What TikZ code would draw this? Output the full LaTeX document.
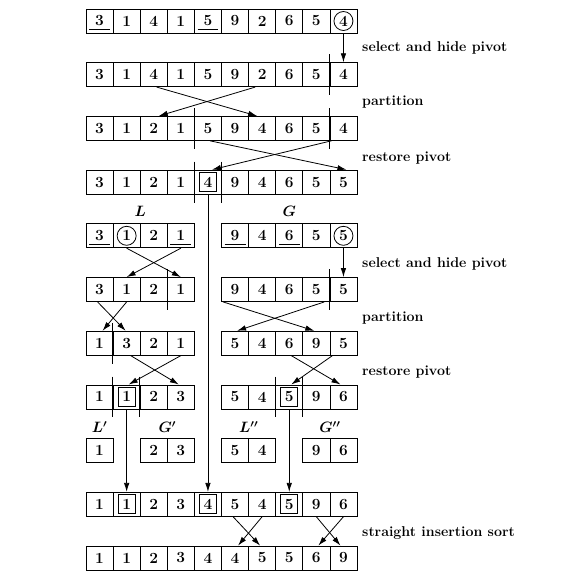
\RequirePackage{fix-cm}
\documentclass[tikz,border=0pt]{standalone}
\usetikzlibrary{arrows.meta,calc}
\tikzset{
  lw/.style={line width=0.8pt},
  cell/.style={draw, lw, minimum width=27.1pt, minimum height=24pt, inner sep=0pt,
    font=\fontsize{15.5}{18}\selectfont\bfseries},
  arr/.style={lw, -{Latex[length=9pt,width=5.5pt]}},
  lbl/.style={anchor=west, inner sep=0pt, font=\fontsize{14.2}{17}\selectfont\bfseries},
  setlbl/.style={inner sep=0pt, font=\fontsize{15}{18}\selectfont\boldmath},
  circmark/.style={draw, lw, circle, minimum size=19pt, inner sep=0pt},
  boxmark/.style={draw, lw, minimum width=17pt, minimum height=19pt, inner sep=0pt}
}
\newcommand\cellrow[3]{\foreach \v [count=\i from #2] in {#3} {\node[cell] (r#1c\i) at ({99.55+27.1*\i},{21+53.7*#1}) {\v};}}
\newcommand\ulcell[1]{\draw[lw] ([xshift=3.5pt,yshift=4pt]#1.south west) -- ([xshift=-3.5pt,yshift=4pt]#1.south east);}
\newcommand\circcell[1]{\node[circmark] (circ-#1) at (#1) {};}
\newcommand\boxcell[1]{\node[boxmark] (box-#1) at (#1) {};}
\newcommand\sepbefore[2]{\draw[lw] ([yshift=8pt]r#1c#2.north west) -- ([yshift=-8pt]r#1c#2.south west);}
\begin{document}
\begin{tikzpicture}[x=1pt,y=-1pt]
\useasboundingbox (0,0) rectangle (575,587);
% rows
\cellrow{0}{0}{3,1,4,1,5,9,2,6,5,4}
\cellrow{1}{0}{3,1,4,1,5,9,2,6,5,4}
\cellrow{2}{0}{3,1,2,1,5,9,4,6,5,4}
\cellrow{3}{0}{3,1,2,1,4,9,4,6,5,5}
\cellrow{4}{0}{3,1,2,1}
\cellrow{4}{5}{9,4,6,5,5}
\cellrow{5}{0}{3,1,2,1}
\cellrow{5}{5}{9,4,6,5,5}
\cellrow{6}{0}{1,3,2,1}
\cellrow{6}{5}{5,4,6,9,5}
\cellrow{7}{0}{1,1,2,3}
\cellrow{7}{5}{5,4,5,9,6}
\cellrow{8}{0}{1}
\cellrow{8}{2}{2,3}
\cellrow{8}{5}{5,4}
\cellrow{8}{8}{9,6}
\cellrow{9}{0}{1,1,2,3,4,5,4,5,9,6}
\cellrow{10}{0}{1,1,2,3,4,4,5,5,6,9}
% marks
\ulcell{r0c0}\ulcell{r0c4}\circcell{r0c9}
\ulcell{r4c0}\ulcell{r4c3}\circcell{r4c1}
\ulcell{r4c5}\ulcell{r4c7}\circcell{r4c9}
\boxcell{r3c4}
\boxcell{r7c1}\boxcell{r7c7}
\boxcell{r9c1}\boxcell{r9c4}\boxcell{r9c7}
% separators
\sepbefore{1}{9}
\sepbefore{2}{4}\sepbefore{2}{9}
\sepbefore{3}{4}\sepbefore{3}{5}
\sepbefore{5}{3}\sepbefore{5}{9}
\sepbefore{6}{1}
\sepbefore{7}{1}\sepbefore{7}{2}
\sepbefore{7}{7}\sepbefore{7}{8}
% arrows
\draw[arr] (r0c9.south) -- (r1c9.north);
\draw[arr] ([xshift=3pt]r1c2.south) -- ([xshift=-5pt]r2c6.north);
\draw[arr] ([xshift=-7pt]r1c6.south) -- ([xshift=5pt]r2c2.north);
\draw[arr] ([xshift=2pt]r2c4.south) -- ([xshift=3pt]r3c9.north);
\draw[arr] ([xshift=-12pt]r2c9.south) -- ([xshift=4pt]r3c4.north);
\draw[arr] (r3c4.south) -- (r9c4.north);
\draw[arr] (r4c1.south) -- (r5c3.north);
\draw[arr] (r4c3.south) -- (r5c1.north);
\draw[arr] (r4c9.south) -- (r5c9.north);
\draw[arr] ([xshift=-2pt]r5c0.south) -- ([xshift=-1pt]r6c1.north);
\draw[arr] (r5c1.south) -- ([xshift=3pt]r6c0.north);
\draw[arr] ([xshift=-12pt]r5c5.south) -- ([xshift=-2pt]r6c8.north);
\draw[arr] ([xshift=8pt]r5c8.south) -- ([xshift=2pt]r6c5.north);
\draw[arr] ([xshift=4pt]r6c1.south) -- ([xshift=-2pt]r7c3.north);
\draw[arr] (r6c3.south) -- ([xshift=2pt]r7c1.north);
\draw[arr] ([xshift=2pt]r6c7.south) -- ([xshift=-3pt]r7c9.north);
\draw[arr] ([xshift=-11pt]r6c9.south) -- ([xshift=2pt]r7c7.north);
\draw[arr] (r7c1.south) -- (r9c1.north);
\draw[arr] (r7c7.south) -- (r9c7.north);
\draw[arr] ([xshift=-2pt]r9c5.south) -- ([xshift=-2pt]r10c6.north);
\draw[arr] (r9c6.south) -- ([xshift=3pt]r10c5.north);
\draw[arr] (r9c8.south) -- ([xshift=-3pt]r10c9.north);
\draw[arr] (r9c9.south) -- ([xshift=2pt]r10c8.north);
% set labels
\node[setlbl] (lL) at (140.2,211) {$L$};
\node[setlbl] (lG) at (289.25,211) {$G$};
\node[setlbl] (lL1) at (99.55,427) {$L'$};
\node[setlbl] (lG1) at (167.3,427) {$G'$};
\node[setlbl] (lL2) at (248.65,427) {$L''$};
\node[setlbl] (lG2) at (329.9,427) {$G''$};
% step labels
\node[lbl] (t1) at (362,48) {select and hide pivot};
\node[lbl] (t2) at (362,102) {partition};
\node[lbl] (t3) at (362,158) {restore pivot};
\node[lbl] (t4) at (362,264) {select and hide pivot};
\node[lbl] (t5) at (362,318) {partition};
\node[lbl] (t6) at (362,372) {restore pivot};
\node[lbl] (t7) at (362,533) {straight insertion sort};
\end{tikzpicture}
\end{document}
